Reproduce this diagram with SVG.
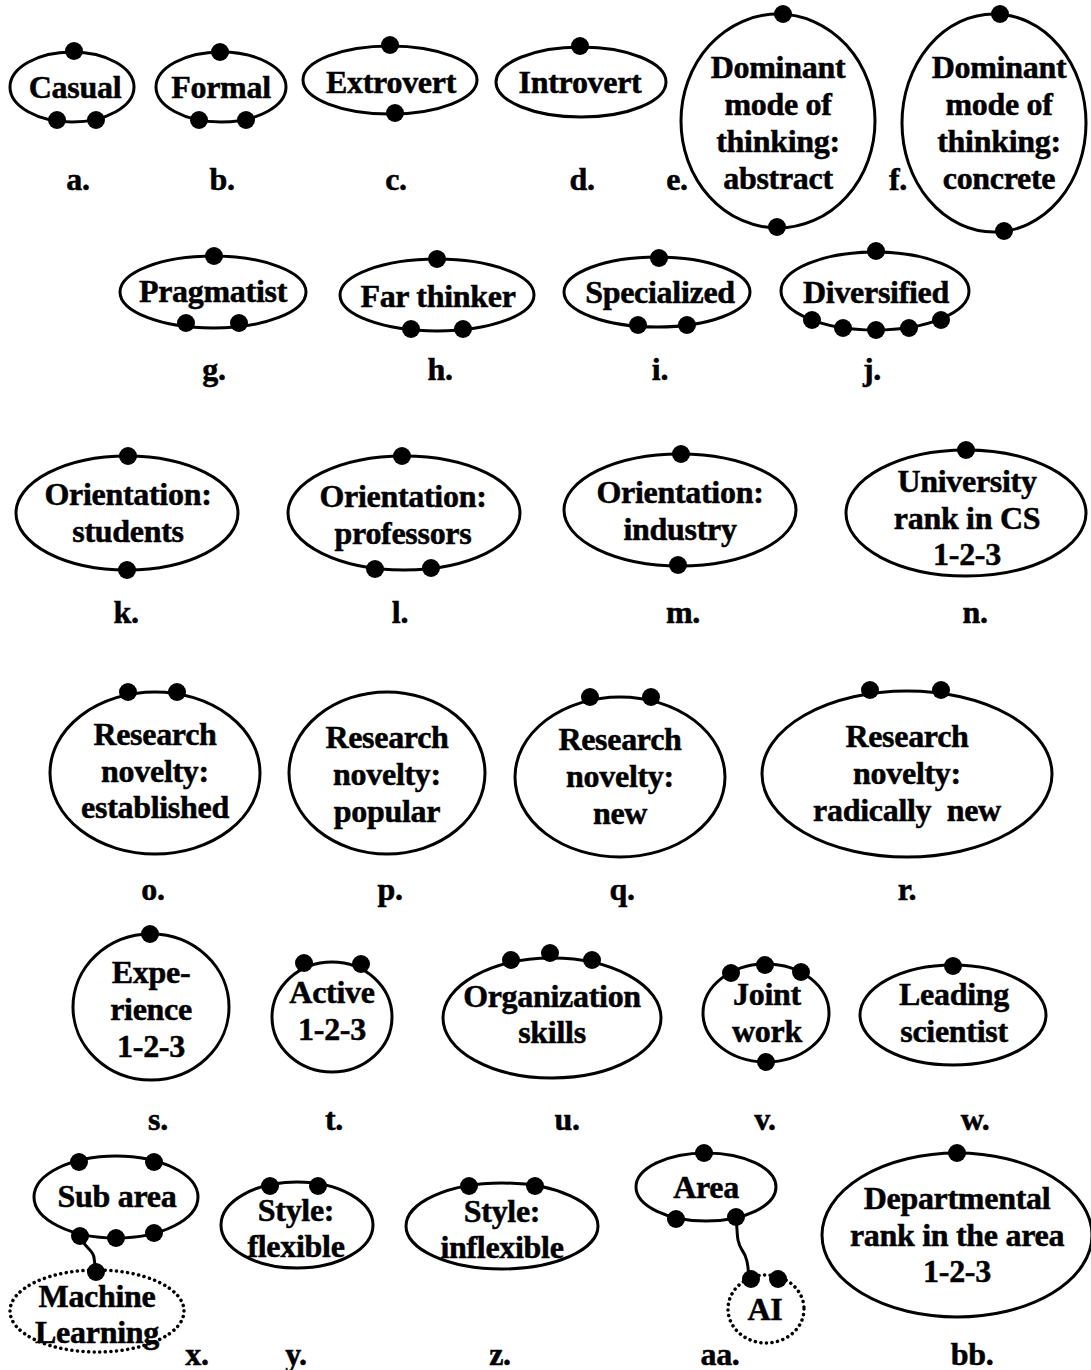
<svg xmlns="http://www.w3.org/2000/svg" width="1091" height="1370" viewBox="0 0 1091 1370">
<style>
  .e{fill:none;stroke:#000;stroke-width:3}
  .dt{fill:none;stroke:#000;stroke-width:3.5;stroke-dasharray:0.1 5.5;stroke-linecap:round}
  .c{fill:none;stroke:#000;stroke-width:3;stroke-linecap:round}
  text{font-family:"Liberation Serif","DejaVu Serif",serif;font-weight:bold;font-size:32px;text-anchor:middle;fill:#000;stroke:#000;stroke-width:0.5;letter-spacing:-0.3px}
</style>
<defs>
  <circle id="p" r="9" fill="#000"/>
</defs>
<rect width="1091" height="1370" fill="#fff"/>

<!-- connectors between a category and its sub-item -->
<g id="connectors">
  <path class="c" d="M80,1236 C84,1248 94,1250 94,1258 L96,1272"/>
  <path class="c" d="M736,1217 C738,1235 736,1240 742,1250 C748,1258 748,1268 749,1278"/>
</g>

<g id="a"><ellipse class="e" cx="72" cy="87" rx="62" ry="35"/><text x="75" y="98">Casual</text>
  <use href="#p" x="74" y="51"/><use href="#p" x="57" y="120"/><use href="#p" x="96" y="120"/><text x="78" y="190">a.</text></g>
<g id="b"><ellipse class="e" cx="221" cy="87" rx="65" ry="35"/><text x="221" y="98">Formal</text>
  <use href="#p" x="220" y="52"/><use href="#p" x="199" y="120"/><use href="#p" x="246" y="120"/><text x="222" y="190">b.</text></g>
<g id="c"><ellipse class="e" cx="390" cy="80" rx="87" ry="34"/><text x="391" y="93">Extrovert</text>
  <use href="#p" x="390" y="45"/><use href="#p" x="395" y="113"/><text x="396" y="190">c.</text></g>
<g id="d"><ellipse class="e" cx="581" cy="82" rx="85" ry="35"/><text x="580" y="93">Introvert</text>
  <use href="#p" x="580" y="46"/><text x="582" y="190">d.</text></g>
<g id="e"><ellipse class="e" cx="778" cy="121" rx="97" ry="107"/>
  <text x="778" y="78">Dominant</text><text x="778" y="115">mode of</text><text x="778" y="152">thinking:</text><text x="778" y="189">abstract</text>
  <use href="#p" x="783" y="14"/><use href="#p" x="777" y="227"/><text x="677" y="190">e.</text></g>
<g id="f"><ellipse class="e" cx="994" cy="123" rx="92" ry="109"/>
  <text x="999" y="78">Dominant</text><text x="999" y="115">mode of</text><text x="999" y="152">thinking:</text><text x="999" y="189">concrete</text>
  <use href="#p" x="1000" y="14"/><use href="#p" x="1004" y="231"/><text x="898" y="190">f.</text></g>

<g id="g"><ellipse class="e" cx="213" cy="292" rx="93" ry="36"/><text x="213" y="302">Pragmatist</text>
  <use href="#p" x="214" y="256"/><use href="#p" x="186" y="323"/><use href="#p" x="239" y="323"/><text x="214" y="380">g.</text></g>
<g id="h"><ellipse class="e" cx="437" cy="295" rx="97" ry="36"/><text x="438" y="307">Far thinker</text>
  <use href="#p" x="437" y="259"/><use href="#p" x="411" y="329"/><use href="#p" x="463" y="329"/><text x="440" y="380">h.</text></g>
<g id="i"><ellipse class="e" cx="657" cy="292" rx="93" ry="35"/><text x="660" y="303">Specialized</text>
  <use href="#p" x="659" y="258"/><use href="#p" x="638" y="325"/><use href="#p" x="687" y="325"/><text x="660" y="380">i.</text></g>
<g id="j"><ellipse class="e" cx="875" cy="291" rx="94" ry="39"/><text x="876" y="303">Diversified</text>
  <use href="#p" x="876" y="251"/><use href="#p" x="812" y="320"/><use href="#p" x="843" y="328"/><use href="#p" x="876" y="330"/><use href="#p" x="909" y="328"/><use href="#p" x="941" y="320"/><text x="872" y="380">j.</text></g>

<g id="k"><ellipse class="e" cx="127" cy="513" rx="111" ry="57"/>
  <text x="128" y="505">Orientation:</text><text x="128" y="542">students</text>
  <use href="#p" x="128" y="456"/><use href="#p" x="127" y="570"/><text x="126" y="623">k.</text></g>
<g id="l"><ellipse class="e" cx="404" cy="513" rx="116" ry="57"/>
  <text x="403" y="507">Orientation:</text><text x="403" y="544">professors</text>
  <use href="#p" x="402" y="456"/><use href="#p" x="375" y="569"/><use href="#p" x="431" y="568"/><text x="400" y="623">l.</text></g>
<g id="m"><ellipse class="e" cx="680" cy="510" rx="116" ry="56"/>
  <text x="680" y="503">Orientation:</text><text x="680" y="540">industry</text>
  <use href="#p" x="681" y="454"/><use href="#p" x="678" y="565"/><text x="683" y="623">m.</text></g>
<g id="n"><ellipse class="e" cx="966" cy="513" rx="120" ry="63"/>
  <text x="967" y="492">University</text><text x="967" y="529">rank in CS</text><text x="967" y="565">1-2-3</text>
  <use href="#p" x="966" y="450"/><text x="975" y="623">n.</text></g>

<g id="o"><ellipse class="e" cx="155" cy="773" rx="105" ry="81"/>
  <text x="155" y="745">Research</text><text x="155" y="782">novelty:</text><text x="155" y="818">established</text>
  <use href="#p" x="128" y="692"/><use href="#p" x="177" y="692"/><text x="153" y="900">o.</text></g>
<g id="p"><ellipse class="e" cx="387" cy="773" rx="98" ry="81"/>
  <text x="387" y="748">Research</text><text x="387" y="785">novelty:</text><text x="387" y="822">popular</text>
  <use href="#p" x="362" y="692"/><use href="#p" x="411" y="692"/><text x="390" y="900">p.</text></g>
<g id="q"><ellipse class="e" cx="620" cy="777" rx="105" ry="80"/>
  <text x="620" y="750">Research</text><text x="620" y="787">novelty:</text><text x="620" y="824">new</text>
  <use href="#p" x="590" y="697"/><use href="#p" x="651" y="697"/><text x="622" y="900">q.</text></g>
<g id="r"><ellipse class="e" cx="907" cy="774" rx="145" ry="83"/>
  <text x="907" y="747">Research</text><text x="907" y="784">novelty:</text><text x="907" y="821" xml:space="preserve">radically  new</text>
  <use href="#p" x="870" y="690"/><use href="#p" x="941" y="690"/><text x="907" y="900">r.</text></g>

<g id="s"><ellipse class="e" cx="151" cy="1007" rx="78" ry="73"/>
  <text x="151" y="983">Expe-</text><text x="151" y="1020">rience</text><text x="151" y="1057">1-2-3</text>
  <use href="#p" x="150" y="934"/><text x="158" y="1130">s.</text></g>
<g id="t"><ellipse class="e" cx="332" cy="1017" rx="60" ry="55"/>
  <text x="332" y="1003">Active</text><text x="332" y="1040">1-2-3</text>
  <use href="#p" x="304" y="963"/><use href="#p" x="361" y="964"/><text x="334" y="1130">t.</text></g>
<g id="u"><ellipse class="e" cx="552" cy="1018" rx="109" ry="60"/>
  <text x="552" y="1007">Organization</text><text x="552" y="1043">skills</text>
  <use href="#p" x="511" y="960"/><use href="#p" x="550" y="953"/><use href="#p" x="592" y="960"/><text x="567" y="1130">u.</text></g>
<g id="v"><ellipse class="e" cx="766" cy="1013" rx="63" ry="49"/>
  <text x="767" y="1005">Joint</text><text x="767" y="1042">work</text>
  <use href="#p" x="731" y="973"/><use href="#p" x="765" y="965"/><use href="#p" x="801" y="972"/><use href="#p" x="766" y="1062"/><text x="765" y="1130">v.</text></g>
<g id="w"><ellipse class="e" cx="953" cy="1015" rx="93" ry="50"/>
  <text x="954" y="1005">Leading</text><text x="954" y="1042">scientist</text>
  <use href="#p" x="953" y="966"/><text x="975" y="1130">w.</text></g>

<g id="x"><ellipse class="e" cx="116" cy="1197" rx="82" ry="41"/><text x="117" y="1207">Sub area</text>
  <use href="#p" x="79" y="1162"/><use href="#p" x="154" y="1162"/><use href="#p" x="80" y="1236"/><use href="#p" x="116" y="1238"/><use href="#p" x="154" y="1233"/>
  <text x="197" y="1365">x.</text></g>
<g id="ml"><ellipse class="dt" cx="97" cy="1311" rx="87" ry="41"/>
  <text x="97" y="1307">Machine</text><text x="97" y="1343">Learning</text>
  <use href="#p" x="96" y="1272"/></g>
<g id="y"><ellipse class="e" cx="297" cy="1225" rx="76" ry="43"/>
  <text x="296" y="1221">Style:</text><text x="296" y="1257">flexible</text>
  <use href="#p" x="270" y="1186"/><use href="#p" x="318" y="1186"/><text x="296" y="1365">y.</text></g>
<g id="z"><ellipse class="e" cx="502" cy="1226" rx="96" ry="43"/>
  <text x="502" y="1222">Style:</text><text x="502" y="1258">inflexible</text>
  <use href="#p" x="469" y="1186"/><use href="#p" x="535" y="1186"/><text x="500" y="1365">z.</text></g>
<g id="aa"><ellipse class="e" cx="706" cy="1187" rx="70" ry="34"/><text x="706" y="1198">Area</text>
  <use href="#p" x="704" y="1153"/><use href="#p" x="676" y="1219"/><use href="#p" x="736" y="1217"/>
  <text x="720" y="1365">aa.</text></g>
<g id="ai"><ellipse class="dt" cx="766" cy="1309" rx="38" ry="34"/><text x="765" y="1320">AI</text>
  <use href="#p" x="751" y="1279"/><use href="#p" x="778" y="1279"/></g>
<g id="bb"><ellipse class="e" cx="957" cy="1235" rx="135" ry="82"/>
  <text x="957" y="1209">Departmental</text><text x="957" y="1246">rank in the area</text><text x="957" y="1282">1-2-3</text>
  <use href="#p" x="957" y="1153"/><text x="972" y="1365">bb.</text></g>
</svg>
